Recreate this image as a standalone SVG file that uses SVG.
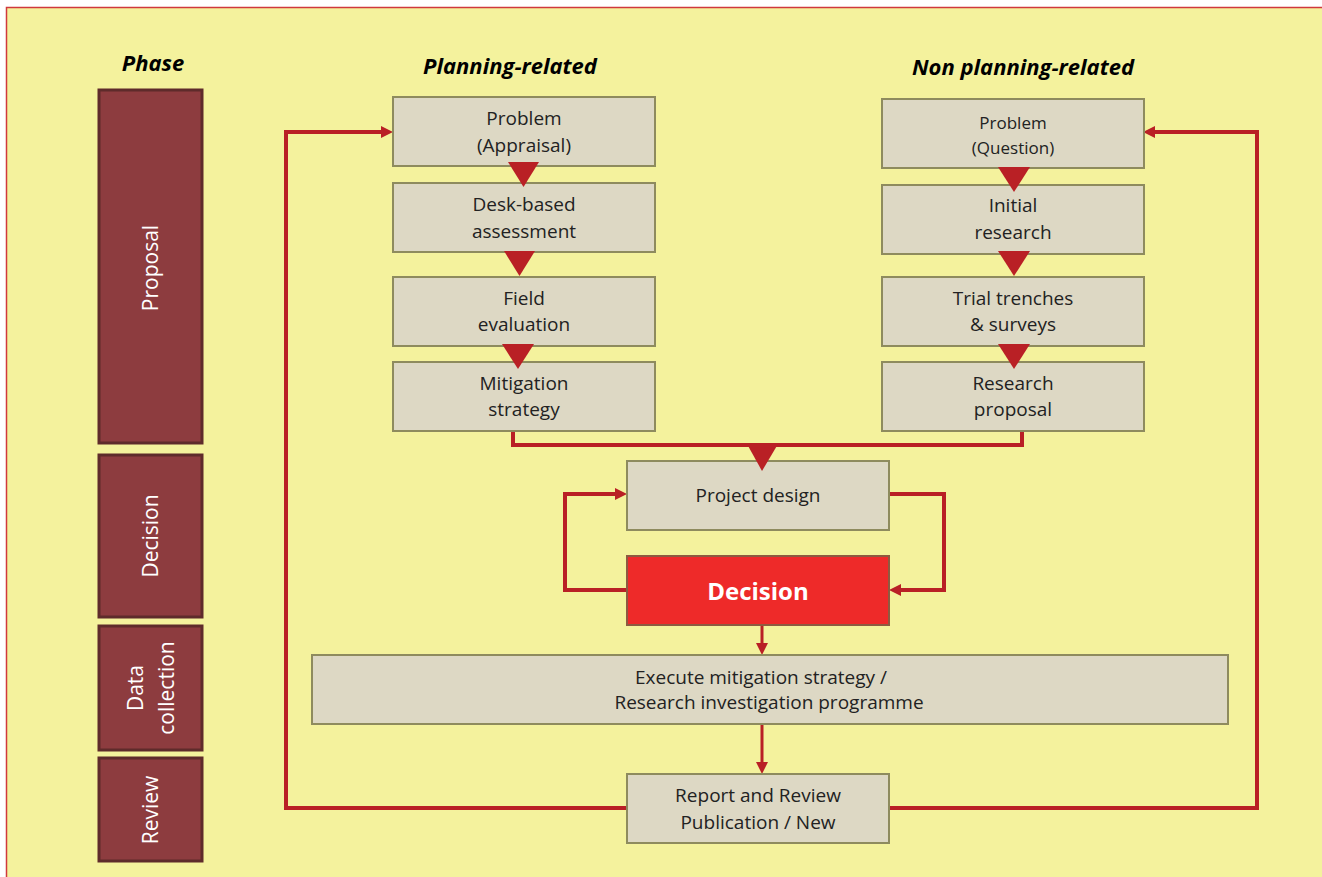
<svg xmlns="http://www.w3.org/2000/svg" width="1322" height="877" viewBox="0 0 1322 877">
  <defs>
    <marker id="arr" viewBox="0 0 12 12" refX="4" refY="6" markerWidth="12" markerHeight="12" markerUnits="userSpaceOnUse" orient="auto">
      <path d="M0,0 L12,6 L0,12 Z" fill="#B92025"/>
    </marker>
  </defs>
  <style>
    .phase rect { fill: #8D3C3F; stroke: #5E2B2B; stroke-width: 3; }
    .phase text { fill: #FFFFFF; font-family: "Open Sans", "Noto Sans", sans-serif; font-size: 21px; text-anchor: middle; }
    .node rect { fill: #DDD8C4; stroke: #8E8B5E; stroke-width: 2; }
    .node text { fill: #222222; font-family: "Open Sans", "Noto Sans", sans-serif; font-size: 19px; text-anchor: middle; }
    .small text { font-size: 17px; }
    .head { fill: #000000; font-family: "Open Sans", "Noto Sans", sans-serif; font-size: 22px; font-weight: bold; font-style: italic; text-anchor: middle; }
    .conn { fill: none; stroke: #B92025; stroke-width: 4; stroke-linejoin: miter; }
    .thin { fill: none; stroke: #B92025; stroke-width: 3; }
    .tri { fill: #B92025; }
  </style>
  <rect x="0" y="0" width="1322" height="877" fill="#FFFFFF"/>
  <rect x="6.5" y="7.5" width="1330" height="880" fill="#F4F29D" stroke="#D0393C" stroke-width="1.5"/>

  <text class="head" x="153" y="71">Phase</text>
  <text class="head" x="510" y="74">Planning-related</text>
  <text class="head" x="1023" y="75">Non planning-related</text>

  <g id="phase-proposal" class="phase">
    <rect x="99" y="90" width="103" height="353"/>
    <text transform="translate(158,268) rotate(-90)">Proposal</text>
  </g>
  <g id="phase-decision" class="phase">
    <rect x="99" y="455" width="103" height="162"/>
    <text transform="translate(158,536) rotate(-90)">Decision</text>
  </g>
  <g id="phase-data" class="phase">
    <rect x="99" y="626" width="103" height="124"/>
    <text transform="translate(143,688) rotate(-90)">Data</text>
    <text transform="translate(174,688) rotate(-90)">collection</text>
  </g>
  <g id="phase-review" class="phase">
    <rect x="99" y="758" width="103" height="103"/>
    <text transform="translate(158,810) rotate(-90)">Review</text>
  </g>

  <g id="connectors">
    <path class="conn" d="M627,808 L286,808 L286,132 L385,132" marker-end="url(#arr)"/>
    <path class="conn" d="M889,808 L1257,808 L1257,132 L1151,132" marker-end="url(#arr)"/>
    <path class="conn" d="M513,431 L513,445 L1022,445 L1022,431"/>
    <path class="conn" d="M627,590 L565,590 L565,494 L619,494" marker-end="url(#arr)"/>
    <path class="conn" d="M889,494 L944,494 L944,590 L897,590" marker-end="url(#arr)"/>
    <path class="thin" d="M762,625 L762,647" marker-end="url(#arr)"/>
    <path class="thin" d="M762,724 L762,766" marker-end="url(#arr)"/>
  </g>

  <g id="n-problem-appraisal" class="node">
    <rect x="393" y="97" width="262" height="69"/>
    <text x="524" y="125">Problem</text>
    <text x="524" y="152">(Appraisal)</text>
  </g>
  <g id="n-desk" class="node">
    <rect x="393" y="183" width="262" height="69"/>
    <text x="524" y="211">Desk-based</text>
    <text x="524" y="238">assessment</text>
  </g>
  <g id="n-field" class="node">
    <rect x="393" y="277" width="262" height="69"/>
    <text x="524" y="305">Field</text>
    <text x="524" y="331">evaluation</text>
  </g>
  <g id="n-mitigation" class="node">
    <rect x="393" y="362" width="262" height="69"/>
    <text x="524" y="390">Mitigation</text>
    <text x="524" y="416">strategy</text>
  </g>

  <g id="n-problem-question" class="node small">
    <rect x="882" y="99" width="262" height="69"/>
    <text x="1013" y="129">Problem</text>
    <text x="1013" y="154">(Question)</text>
  </g>
  <g id="n-initial" class="node">
    <rect x="882" y="185" width="262" height="69"/>
    <text x="1013" y="212">Initial</text>
    <text x="1013" y="239">research</text>
  </g>
  <g id="n-trial" class="node">
    <rect x="882" y="277" width="262" height="69"/>
    <text x="1013" y="305">Trial trenches</text>
    <text x="1013" y="331">&amp; surveys</text>
  </g>
  <g id="n-research" class="node">
    <rect x="882" y="362" width="262" height="69"/>
    <text x="1013" y="390">Research</text>
    <text x="1013" y="416">proposal</text>
  </g>

  <g id="n-project" class="node">
    <rect x="627" y="461" width="262" height="69"/>
    <text x="758" y="502">Project design</text>
  </g>
  <g id="n-decision">
    <rect x="627" y="556" width="262" height="69" fill="#EE2A29" stroke="#8E5A40" stroke-width="2"/>
    <text x="758" y="600" fill="#FFFFFF" font-family="'Open Sans', 'Noto Sans', sans-serif" font-size="24" font-weight="bold" text-anchor="middle">Decision</text>
  </g>
  <g id="n-execute" class="node">
    <rect x="312" y="655" width="916" height="69"/>
    <text x="761" y="684">Execute mitigation strategy /</text>
    <text x="769" y="709">Research investigation programme</text>
  </g>
  <g id="n-report" class="node">
    <rect x="627" y="774" width="262" height="69"/>
    <text x="758" y="802">Report and Review</text>
    <text x="758" y="829">Publication / New</text>
  </g>

  <g id="flow-triangles">
    <polygon class="tri" points="508,162 539,162 523.5,187"/>
    <polygon class="tri" points="504,251 535,251 519.5,276"/>
    <polygon class="tri" points="502,344 534,344 518,369"/>
    <polygon class="tri" points="998,167 1030,167 1014,192"/>
    <polygon class="tri" points="998,251 1030,251 1014,276"/>
    <polygon class="tri" points="998,344 1030,344 1014,369"/>
    <polygon class="tri" points="747,444 778,444 762,471"/>
  </g>
</svg>
